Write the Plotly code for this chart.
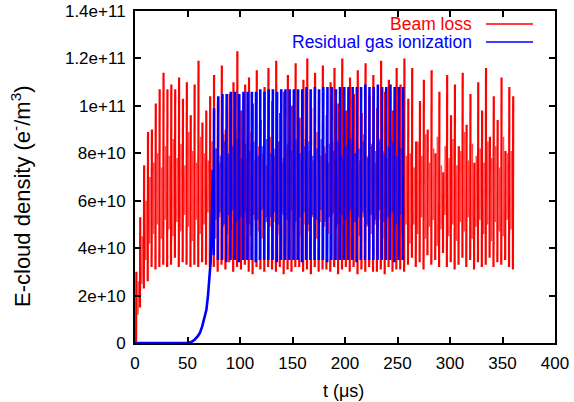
import plotly.graph_objects as go

# ---------------- data (values in units of 1e10 e-/m^3) ----------------
SCALE = 1e10

# Beam loss: one stroke per pulse (min -> max), pulses every red_step us
red_t0, red_step = 1.0, 3.7
red_hi = [
    3.0, 5.3, 7.5, 8.9, 9.0, 10.1, 10.7, 11.4, 10.7, 10.9,
    10.7, 11.2, 10.3, 11.0, 9.6, 10.9, 11.9, 9.3, 9.8, 10.4,
    11.3, 10.2, 11.7, 9.0, 10.5, 11.0, 12.3, 9.8, 10.9, 11.2,
    10.1, 11.5, 9.4, 10.8, 11.6, 10.2, 11.9, 9.7, 10.6, 11.3,
    10.0, 11.8, 9.5, 11.1, 12.0, 9.9, 11.4, 10.3, 11.7, 9.6,
    11.0, 11.6, 10.1, 12.0, 9.8, 11.2, 10.5, 11.5, 9.7, 11.8,
    10.4, 11.3, 9.9, 11.9, 10.6, 11.1, 9.8, 11.6, 10.9, 12.0,
    10.3, 11.6, 8.5, 10.2, 11.1, 9.0, 11.5, 8.0, 10.6, 7.2,
    11.3, 9.6, 10.9, 8.3, 11.4, 9.2, 10.5, 7.6, 11.0, 9.8,
    11.6, 8.7, 10.4, 9.4, 11.2, 8.1, 10.8, 10.4,
]
red_lo = [
    0.0, 1.5, 2.3, 2.6, 3.2, 3.1, 3.2, 3.3, 3.2, 3.3,
    3.6, 3.2, 3.4, 3.3, 3.2, 3.3, 3.2, 3.4, 3.3, 3.2,
    3.2, 3.0, 3.3, 3.1, 3.4, 3.0, 3.2, 3.1, 3.3, 3.0,
    2.9, 3.2, 3.1, 3.0, 3.2, 3.1, 3.0, 3.2, 2.9, 3.1,
    3.0, 3.2, 3.2, 3.0, 3.1, 2.9, 3.2, 3.0, 3.1, 3.1,
    3.0, 3.2, 2.9, 3.1, 3.2, 3.0, 3.2, 2.9, 3.1, 3.0,
    3.2, 3.0, 3.0, 3.1, 2.9, 3.2, 3.0, 3.1, 3.1, 3.0,
    3.3, 3.6, 3.2, 3.4, 3.1, 3.7, 3.3, 3.5, 3.2, 3.8,
    3.2, 3.4, 3.1, 3.3, 3.6, 3.2, 3.5, 3.1, 3.4, 3.2,
    3.3, 3.6, 3.2, 3.4, 3.3, 3.5, 3.2, 3.1,
]
# weaker intermediate strokes, half-way between the main pulses
red_mid_lo = [
    1.2, 2.5, 3.5, 4.2, 4.6, 5.0, 4.4, 5.2, 4.8, 4.5,
    5.1, 4.7, 5.4, 4.9, 4.3, 5.2, 4.6, 5.0, 5.5, 4.8,
    4.4, 5.3, 4.9, 4.6, 5.1, 4.2, 5.4, 4.8, 5.0, 4.5,
    5.2, 4.7, 4.4, 5.3, 4.9, 5.1, 4.6, 5.5, 4.3, 5.0,
    4.8, 5.2, 4.5, 5.0, 4.7, 5.3, 4.4, 5.1, 4.9, 4.6,
    5.4, 4.8, 5.0, 4.3, 5.2, 4.7, 5.1, 4.5, 5.3, 4.9,
    4.6, 5.0, 5.2, 4.4, 4.9, 5.3, 4.7, 5.1, 4.5, 5.0,
    4.2, 5.0, 4.6, 5.3, 4.4, 4.9, 5.2, 4.1, 4.8, 5.4,
    4.5, 5.0, 4.3, 5.1, 4.7, 5.3, 4.4, 4.9, 5.2, 4.6,
    5.0, 4.3, 5.1, 4.7, 4.5, 5.2, 4.8,
]
red_mid_hi = [
    2.6, 4.5, 6.0, 7.0, 7.6, 8.0, 7.4, 8.3, 7.9, 8.6,
    7.8, 8.4, 7.5, 8.9, 8.1, 7.6, 8.7, 8.0, 7.7, 8.5,
    8.2, 7.6, 8.8, 7.9, 8.4, 7.3, 8.6, 8.0, 7.8, 8.9,
    7.7, 8.3, 8.0, 7.5, 8.7, 7.9, 8.5, 7.6, 8.2, 8.8,
    7.8, 8.4, 7.4, 8.6, 8.1, 7.7, 8.9, 7.9, 8.3, 7.6,
    8.5, 7.8, 8.2, 8.7, 7.5, 8.4, 8.0, 7.7, 8.8, 7.9,
    8.3, 7.6, 8.5, 8.1, 7.8, 8.6, 7.4, 8.2, 8.9, 7.9,
    8.0, 7.4, 8.5, 7.9, 8.8, 7.6, 8.2, 8.7, 7.5, 8.3,
    7.8, 8.6, 7.5, 8.1, 8.9, 7.7, 8.4, 7.9, 8.2, 7.6,
    8.5, 7.8, 8.3, 7.4, 8.7, 8.0, 8.1,
]

# Residual gas ionization: build-up phase
blue_rise_t = [0, 45, 50, 54, 57, 60, 62, 64, 66, 68, 69.5, 71, 72, 73, 74.0]
blue_rise_v = [0, 0, 0.0, 0.05, 0.15, 0.3, 0.45, 0.7, 1.0, 1.4, 2.0, 2.8, 3.4, 5.0, 7.3]
# then saturated pulses
blue_t0, blue_step = 75.0, 4.0
blue_hi = [
    9.9, 10.4, 10.5, 10.5, 10.6, 10.6, 10.5, 10.6, 10.6, 10.6,
    10.6, 10.7, 10.6, 10.7, 10.7, 10.6, 10.7, 10.7, 10.7, 10.7,
    10.7, 10.7, 10.8, 10.7, 10.8, 10.7, 10.8, 10.8, 10.8, 10.7,
    10.8, 10.8, 10.8, 10.8, 10.8, 10.8, 10.9, 10.8, 10.8, 10.9,
    10.8, 10.8, 10.9, 10.8, 10.8, 10.8,
]
blue_lo = [
    3.7, 3.5, 3.5, 3.4, 3.5, 3.5, 3.4, 3.5, 3.5, 3.5,
    3.4, 3.5, 3.5, 3.5, 3.5, 3.4, 3.5, 3.5, 3.5, 3.5,
    3.5, 3.4, 3.5, 3.5, 3.5, 3.5, 3.5, 3.4, 3.5, 3.5,
    3.5, 3.5, 3.5, 3.5, 3.4, 3.5, 3.5, 3.5, 3.5, 3.5,
    3.5, 3.5, 3.5, 3.4, 3.5, 3.5,
]
blue_mid_lo = [
    5.2, 5.5, 5.0, 5.4, 5.6, 5.1, 5.3, 5.5, 5.0, 5.4,
    5.2, 5.6, 5.1, 5.3, 5.5, 5.0, 5.4, 5.2, 5.6, 5.1,
    5.3, 5.5, 5.0, 5.4, 5.2, 5.6, 5.1, 5.3, 5.5, 5.0,
    5.4, 5.2, 5.6, 5.1, 5.3, 5.5, 5.0, 5.4, 5.2, 5.6,
    5.1, 5.3, 5.5, 5.0, 5.4,
]
blue_mid_hi = [
    8.2, 7.9, 8.5, 8.0, 8.3, 8.6, 7.8, 8.4, 8.1, 8.5,
    7.9, 8.3, 8.6, 8.0, 8.2, 8.5, 7.8, 8.4, 8.1, 8.6,
    8.0, 8.3, 8.5, 7.9, 8.2, 8.6, 8.0, 8.4, 8.1, 8.5,
    7.9, 8.3, 8.6, 8.0, 8.2, 8.5, 7.8, 8.4, 8.1, 8.6,
    8.0, 8.3, 8.5, 7.9, 8.2,
]

x_ticks = [0, 50, 100, 150, 200, 250, 300, 350, 400]
y_ticks = [0, 2e10, 4e10, 6e10, 8e10, 1e11, 1.2e11, 1.4e11]
y_tick_text = ["0", "2e+10", "4e+10", "6e+10", "8e+10", "1e+11", "1.2e+11", "1.4e+11"]

series_names = ["Beam loss", "Residual gas ionization"]
series_colors = ["#ff0000", "#0000ff"]
x_title = "t (\u03bcs)"
y_title = "E-cloud density (e<sup>-</sup>/m<sup>3</sup>)"


def strokes(t0, step, lo, hi):
    """One vertical stroke (lo -> hi) per pulse, separated by gaps."""
    xs, ys = [], []
    for k, (a, b) in enumerate(zip(lo, hi)):
        t = t0 + k * step
        xs += [t, t + 0.3, None]
        ys += [a * SCALE, b * SCALE, None]
    return xs, ys


# ---------------- figure ----------------
W, H = 574, 402
PL, PR, PT, PB = 135, 555, 11, 343          # plot area in pixels
FONT = "Liberation Sans, Arial, Helvetica, sans-serif"

fig = go.Figure()

rx, ry = strokes(red_t0, red_step, red_lo, red_hi)
rx = [0.0] + rx
ry = [0.0] + ry
fig.add_trace(go.Scatter(x=rx, y=ry, mode="lines", connectgaps=False,
                         line=dict(color=series_colors[0], width=2.2),
                         name=series_names[0], showlegend=False))
mx, my = strokes(red_t0 + red_step / 2, red_step, red_mid_lo, red_mid_hi)
fig.add_trace(go.Scatter(x=mx, y=my, mode="lines", connectgaps=False,
                         line=dict(color="rgba(255,0,0,0.7)", width=1.6),
                         showlegend=False, hoverinfo="skip"))

bx, by = strokes(blue_t0, blue_step, blue_lo, blue_hi)
bx = blue_rise_t + bx
by = [v * SCALE for v in blue_rise_v] + by
fig.add_trace(go.Scatter(x=bx, y=by, mode="lines", connectgaps=False,
                         line=dict(color=series_colors[1], width=2.6),
                         name=series_names[1], showlegend=False))
mx, my = strokes(blue_t0 + blue_step / 2, blue_step, blue_mid_lo, blue_mid_hi)
fig.add_trace(go.Scatter(x=mx, y=my, mode="lines", connectgaps=False,
                         line=dict(color="rgba(0,0,255,0.65)", width=1.5),
                         showlegend=False, hoverinfo="skip"))

axis_common = dict(showgrid=False, zeroline=False, showline=True, linecolor="black",
                   linewidth=2, mirror="allticks", ticks="inside", ticklen=6,
                   tickwidth=1.5, tickcolor="black", automargin=False,
                   ticklabeloverflow="allow",
                   tickfont=dict(family=FONT, size=17, color="black"))

fig.update_xaxes(range=[0, 400], tickvals=x_ticks, ticktext=[str(v) for v in x_ticks],
                 ticklabelstandoff=4, **axis_common)
fig.update_yaxes(range=[0, 1.4e11], tickvals=y_ticks, ticktext=y_tick_text,
                 ticklabelstandoff=4, **axis_common)

pw, ph = PR - PL, PB - PT
def px(xp):
    return (xp - PL) / pw
def py(yp):
    return (PB - yp) / ph

# axis titles placed where the reference has them
fig.add_annotation(x=px(343), y=py(391), xref="paper", yref="paper", text=x_title,
                   showarrow=False, xanchor="center", yanchor="middle",
                   font=dict(family=FONT, size=18, color="black"))
fig.add_annotation(x=px(21), y=py(196), xref="paper", yref="paper", text=y_title,
                   showarrow=False, xanchor="center", yanchor="middle", textangle=-90,
                   font=dict(family=FONT, size=22, color="black"))

# gnuplot-style legend: right-aligned text followed by line sample
legend_rows_y = [24, 42]
for name, color, yy in zip(series_names, series_colors, legend_rows_y):
    fig.add_annotation(x=px(474), y=py(yy), xref="paper", yref="paper", text=name,
                       showarrow=False, xanchor="right", yanchor="middle",
                       font=dict(family=FONT, size=17.5, color=color))
    fig.add_shape(type="line", xref="paper", yref="paper", x0=px(486), x1=px(533),
                  y0=py(yy), y1=py(yy), line=dict(color=color, width=1.5))

fig.update_layout(width=W, height=H, margin=dict(l=PL, r=W - PR, t=PT, b=H - PB),
                  plot_bgcolor="white", paper_bgcolor="white",
                  font=dict(family=FONT, color="black"))

fig.write_html("out.html", config={"displayModeBar": False},
               post_script="document.body.style.margin='0';"
                           "document.documentElement.style.overflow='hidden';")
